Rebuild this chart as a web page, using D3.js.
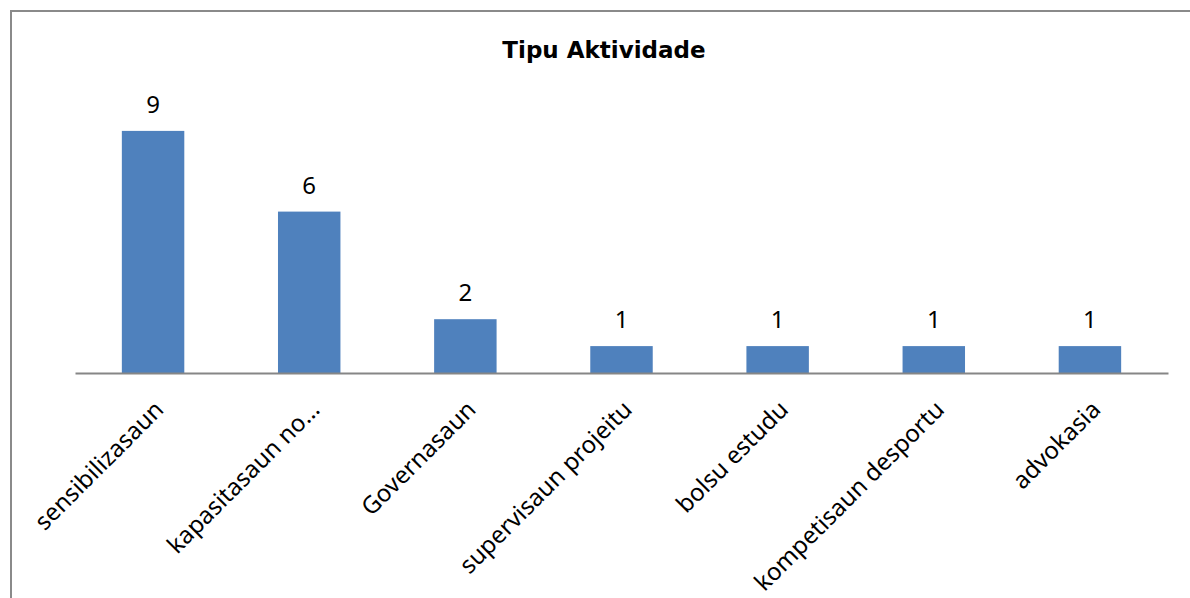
<!DOCTYPE html>
<html>
<head>
<meta charset="utf-8">
<script src="https://cdn.jsdelivr.net/npm/d3@7"></script>
<style>
  body { margin: 0; background: #fff; }
  svg { display: block; }
</style>
</head>
<body>
<div id="chart"></div>
<script>
// data
const categories = ['sensibilizasaun', 'kapasitasaun no…', 'Governasaun', 'supervisaun projeitu',
    'bolsu estudu', 'kompetisaun desportu', 'advokasia'];
const values = [9, 6, 2, 1, 1, 1, 1];
const title = 'Tipu Aktividade';

const width = 1190, height = 598;
const margin = { left: 75, right: 22, top: 104, bottom: 225 };
const plotW = width - margin.left - margin.right;
const plotH = height - margin.top - margin.bottom;

const svg = d3.select('#chart').append('svg')
    .attr('width', width)
    .attr('height', height);

// chart frame
svg.append('rect')
    .attr('x', 11).attr('y', 11)
    .attr('width', 1300).attr('height', 700)
    .attr('fill', 'none')
    .attr('stroke', '#8a8a8a')
    .attr('stroke-width', 2);

// title
svg.append('text')
    .attr('x', 604).attr('y', 58)
    .attr('text-anchor', 'middle')
    .style('font-family', '"DejaVu Sans", sans-serif')
    .style('font-weight', 'bold')
    .style('font-size', '23px')
    .text(title);

const g = svg.append('g')
    .attr('transform', `translate(${margin.left}, ${margin.top})`);

// scales
const x = d3.scaleBand()
    .domain(categories)
    .range([0, plotW])
    .paddingInner(0.6)
    .paddingOuter(0.3);
const y = d3.scaleLinear().domain([0, 10]).range([plotH, 0]);

// bars
g.selectAll('.bar').data(values)
    .enter().append('rect')
    .attr('class', 'bar')
    .attr('x', (d, i) => x(categories[i]))
    .attr('y', d => y(d))
    .attr('width', x.bandwidth())
    .attr('height', d => plotH - y(d))
    .attr('fill', '#4f81bd');

// value labels
g.selectAll('.val').data(values)
    .enter().append('text')
    .attr('class', 'val')
    .attr('x', (d, i) => x(categories[i]) + x.bandwidth() / 2)
    .attr('y', d => y(d) - 18)
    .attr('text-anchor', 'middle')
    .style('font-family', '"Noto Sans", sans-serif')
    .style('font-size', '24px')
    .attr('fill', '#000')
    .text(d => d);

// x axis
const xAxis = g.append('g')
    .attr('class', 'axis axis-x')
    .attr('transform', `translate(0, ${plotH})`)
    .call(d3.axisBottom(x).tickSize(0).tickSizeOuter(0));
xAxis.select('.domain').attr('stroke', '#868686').attr('stroke-width', 2);
xAxis.selectAll('text')
    .style('font-family', '"Noto Sans", sans-serif')
    .style('font-size', '24px')
    .attr('fill', '#000')
    .style('text-anchor', 'end')
    .attr('dx', 0).attr('dy', 0)
    .attr('x', 0).attr('y', 0)
    .attr('transform', 'translate(12, 38) rotate(-45)');
</script>
</body>
</html>
